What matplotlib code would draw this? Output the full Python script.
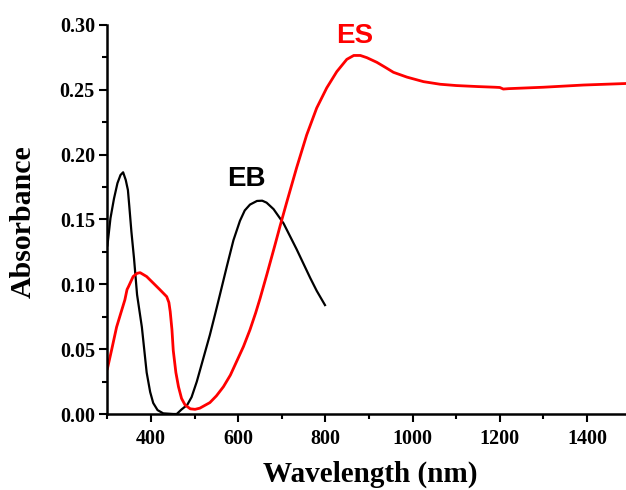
import matplotlib
matplotlib.use("Agg")
import matplotlib.pyplot as plt
from matplotlib.ticker import MultipleLocator

# EB (emeraldine base) spectrum
eb_wl = [300, 307, 315, 323, 330, 336, 342, 347, 350, 355, 361, 368, 379, 390,
         398, 405, 415, 428, 451, 459, 470, 483, 493, 505, 520, 535, 547, 558,
         574, 589, 604, 615, 627, 643, 655, 665, 681, 704, 734, 765, 780, 799]
eb_abs = [0.130, 0.151, 0.166, 0.178, 0.1843, 0.1864, 0.1805, 0.1727, 0.161,
          0.1406, 0.120, 0.092, 0.067, 0.032, 0.017, 0.0085, 0.003, 0.0005,
          0.0, 0.0, 0.0035, 0.007, 0.013, 0.025, 0.043, 0.061, 0.077, 0.092,
          0.114, 0.134, 0.149, 0.157, 0.1615, 0.1643, 0.1645, 0.163, 0.158,
          0.147, 0.127, 0.105, 0.095, 0.084]

# ES (emeraldine salt) spectrum
es_wl = [300, 310, 321, 330, 340, 345, 348, 359, 368, 375, 390, 405, 420, 436,
         441, 444, 448, 451, 457, 463, 470, 478, 490, 501, 512, 520, 535, 550,
         566, 582, 597, 612, 627, 640, 650, 666, 684, 696, 711, 734, 757, 780,
         803, 826, 849, 865, 880, 895, 918, 940, 956, 987, 1025, 1063, 1100,
         1150, 1189, 1200, 1208, 1220, 1300, 1392, 1500]
es_abs = [0.035, 0.050, 0.067, 0.077, 0.088, 0.096, 0.098, 0.106, 0.1085,
          0.109, 0.106, 0.101, 0.096, 0.0905, 0.086, 0.079, 0.065, 0.049,
          0.032, 0.021, 0.012, 0.007, 0.004, 0.0036, 0.0045, 0.006, 0.0088,
          0.014, 0.021, 0.030, 0.041, 0.052, 0.065, 0.078, 0.089, 0.108,
          0.130, 0.145, 0.163, 0.190, 0.2152, 0.236, 0.2515, 0.264, 0.2735,
          0.2765, 0.2765, 0.2748, 0.2712, 0.2668, 0.2635, 0.2598, 0.2563,
          0.2543, 0.2533, 0.2525, 0.252, 0.2518, 0.2506, 0.2509, 0.252,
          0.2537, 0.255]

serif = "Liberation Serif"
sans = "Liberation Sans"

fig = plt.figure(figsize=(6.26, 4.9), dpi=100)
ax = fig.add_axes([0.1716, 0.1551, 0.8358, 0.7939])

ax.plot(eb_wl, eb_abs, color="black", lw=1.6, solid_joinstyle="round")
ax.plot(es_wl, es_abs, color="#ff0000", lw=2.0, solid_joinstyle="round")

ax.text(618, 0.181, "EB", color="black", fontsize=20, fontweight="bold",
        family=sans, ha="center", va="center")
ax.text(868, 0.2915, "ES", color="#ff0000", fontsize=20, fontweight="bold",
        family=sans, ha="center", va="center")

ax.set_xlim(300, 1500)
ax.set_ylim(0, 0.30)
ax.xaxis.set_major_locator(MultipleLocator(200))
ax.xaxis.set_minor_locator(MultipleLocator(100))
ax.yaxis.set_major_locator(MultipleLocator(0.05))
ax.yaxis.set_minor_locator(MultipleLocator(0.025))
ax.yaxis.set_major_formatter(plt.FormatStrFormatter("%.2f"))

for s in ["top", "right"]:
    ax.spines[s].set_visible(False)
for s in ["left", "bottom"]:
    ax.spines[s].set_linewidth(1.8)

ax.tick_params(which="major", direction="out", length=6, width=1.5, pad=3)
ax.tick_params(which="minor", direction="out", length=3.5, width=1.5)
ax.tick_params(axis="x", which="major", pad=5)
for lab in ax.get_xticklabels() + ax.get_yticklabels():
    lab.set_family(serif)
    lab.set_fontweight("bold")
    lab.set_fontsize(14.5)

ax.set_xlabel("Wavelength (nm)", family=serif, fontweight="bold", fontsize=21)
ax.set_ylabel("Absorbance", family=serif, fontweight="bold", fontsize=21.5)
ax.xaxis.set_label_coords(0.502, -0.155)
ax.xaxis.label.set_va("center")
ax.yaxis.set_label_coords(-0.161, 0.494)
ax.yaxis.label.set_va("center")

fig.savefig("out.png", dpi=100)
